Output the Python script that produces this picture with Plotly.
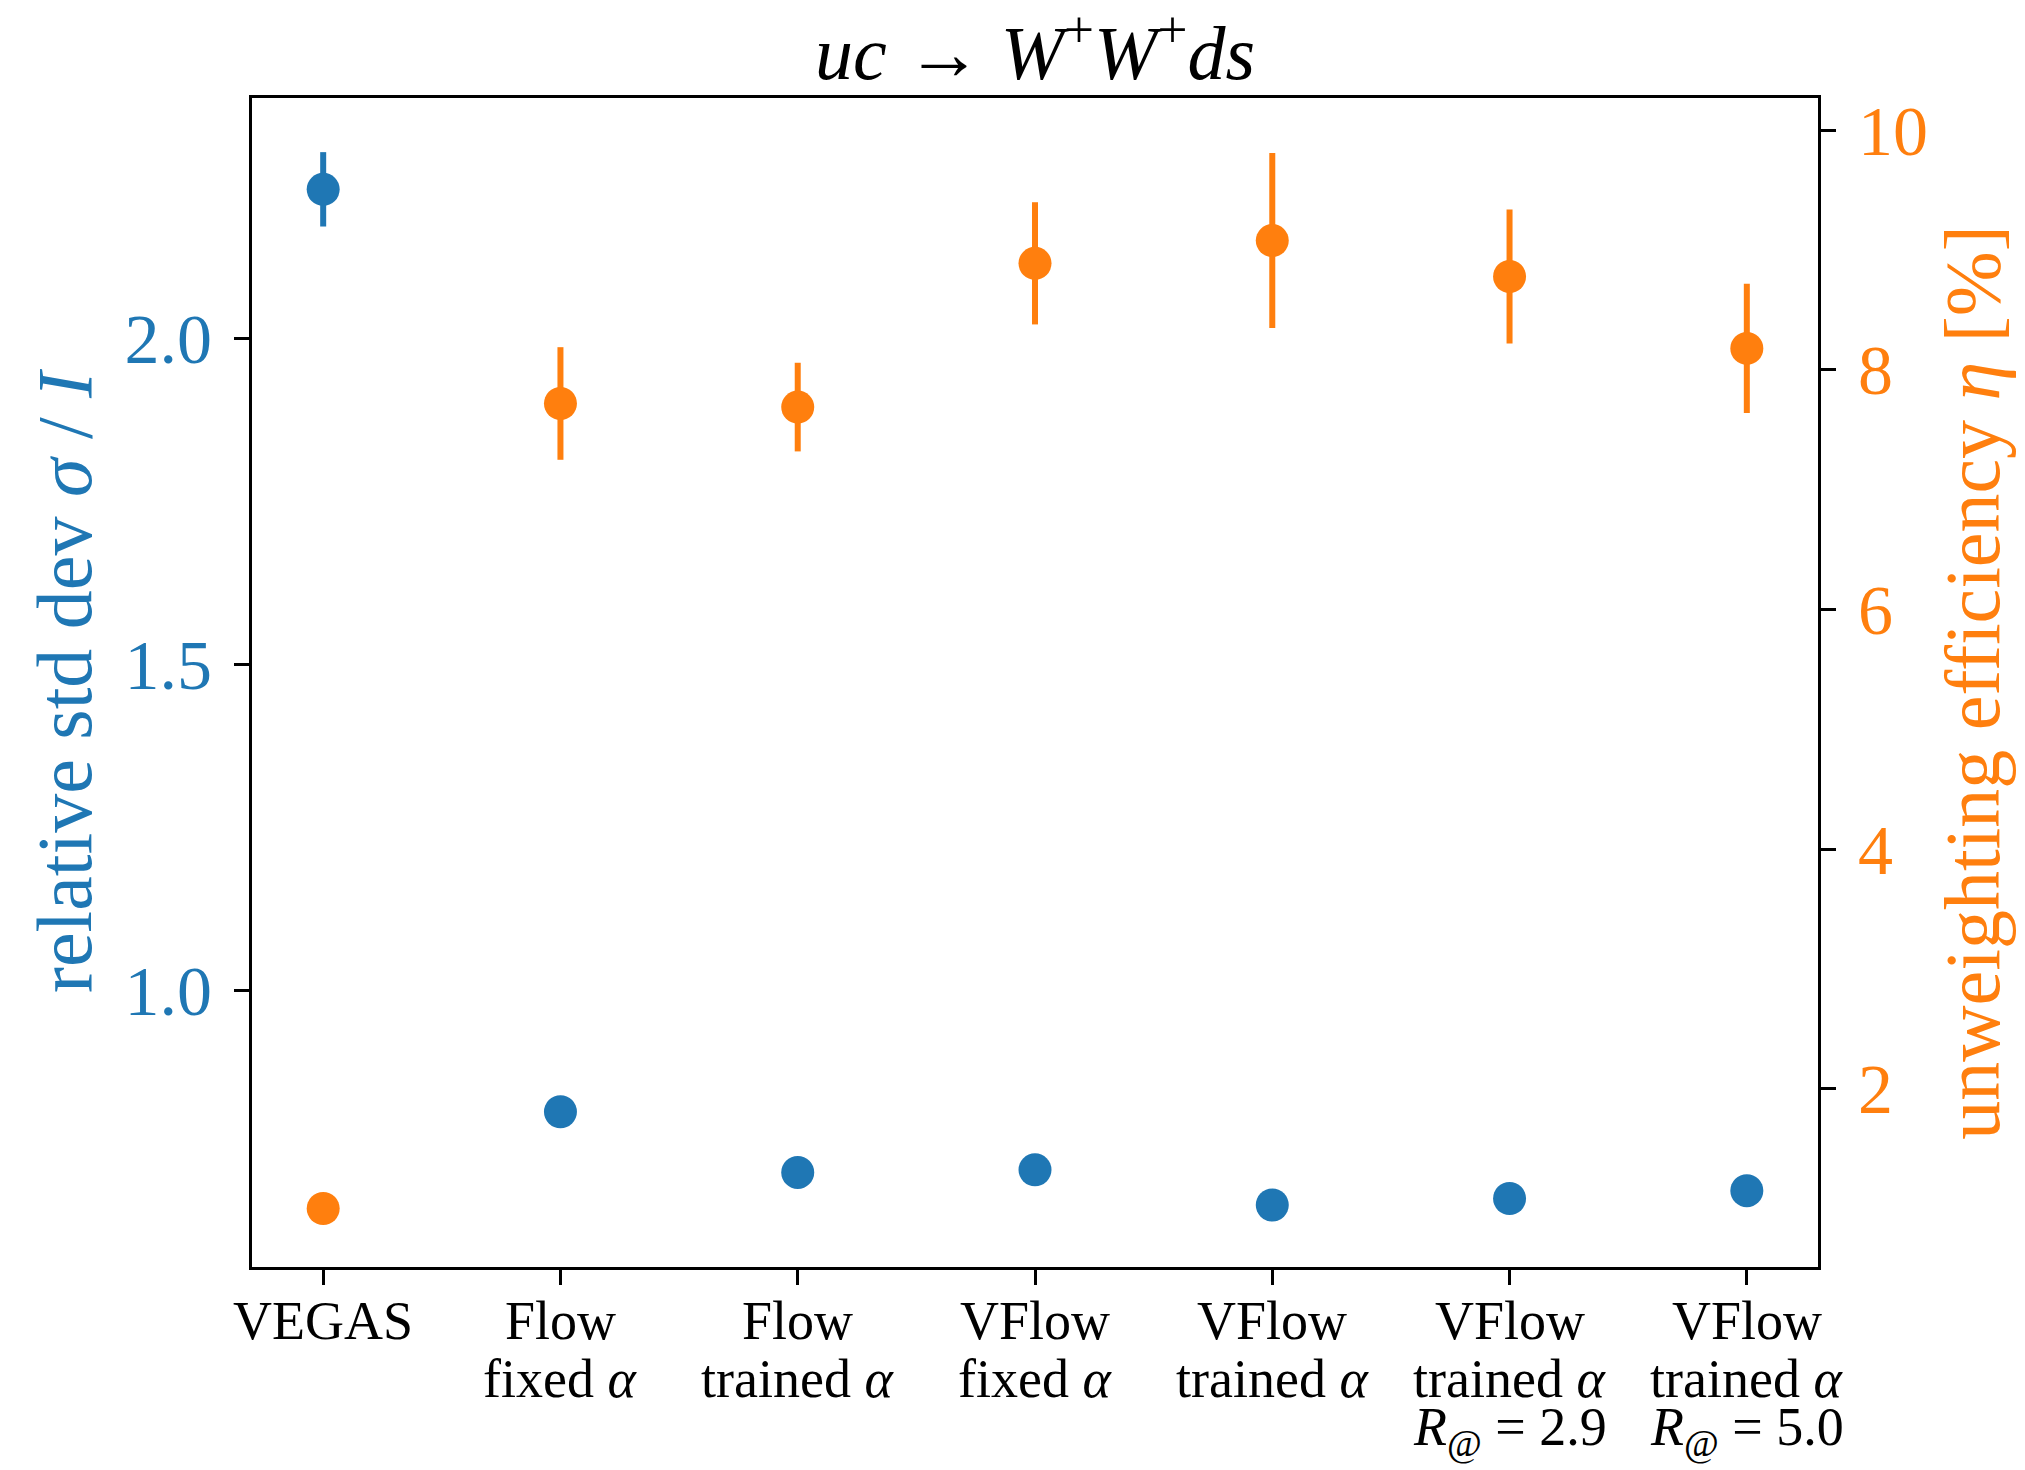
import plotly.graph_objects as go

# Methods compared
categories = [0, 1, 2, 3, 4, 5, 6]
tick_labels = [
    "VEGAS",
    "Flow<br>fixed <i>α</i>",
    "Flow<br>trained <i>α</i>",
    "VFlow<br>fixed <i>α</i>",
    "VFlow<br>trained <i>α</i>",
    "VFlow<br>trained <i>α</i><br><i>R</i><sub>@</sub> = 2.9",
    "VFlow<br>trained <i>α</i><br><i>R</i><sub>@</sub> = 5.0",
]

# Relative standard deviation sigma / I (left axis)
rel_std = [2.228, 0.814, 0.721, 0.725, 0.671, 0.681, 0.693]
rel_std_err = [0.057, 0.0, 0.0, 0.0, 0.0, 0.0, 0.0]

# Unweighting efficiency eta in percent (right axis)
eff = [1.0, 7.72, 7.69, 8.89, 9.08, 8.78, 8.18]
eff_err = [0.0, 0.47, 0.37, 0.51, 0.73, 0.56, 0.54]

BLUE = "#1f77b4"
ORANGE = "#ff7f0e"
FONT = "Liberation Serif"

W, H = 2025, 1470
L, R, T, B = 252, 207, 98, 203
plot_h = H - T - B

fig = go.Figure()

fig.add_trace(go.Scatter(
    x=categories, y=rel_std, mode="markers",
    marker=dict(color=BLUE, size=33),
    error_y=dict(type="data", array=rel_std_err, visible=True,
                 color=BLUE, thickness=6, width=0),
    yaxis="y", showlegend=False,
))

fig.add_trace(go.Scatter(
    x=categories, y=eff, mode="markers",
    marker=dict(color=ORANGE, size=33),
    error_y=dict(type="data", array=eff_err, visible=True,
                 color=ORANGE, thickness=6, width=0),
    yaxis="y2", showlegend=False,
))

# Multi-line category labels below the x axis, one text per line
line_offsets_px = [54, 112, 164]
annotations = []
for xv, label in zip(categories, tick_labels):
    for k, line in enumerate(label.split("<br>")):
        annotations.append(dict(
            x=xv, xref="x", y=-line_offsets_px[k] / plot_h, yref="paper",
            text=line, showarrow=False, xanchor="center", yanchor="middle",
            font=dict(size=54, family=FONT, color="black"),
        ))

fig.update_layout(
    width=W, height=H,
    margin=dict(l=L, r=R, t=T, b=B),
    paper_bgcolor="white", plot_bgcolor="white",
    font=dict(family=FONT, color="black"),
    title=dict(
        text="<i>uc</i> → <i>W</i><sup>+</sup><i>W</i><sup>+</sup><i>ds</i>",
        x=(L + (W - R)) / 2 / W, xanchor="center",
        y=1 - 52 / H, yanchor="middle",
        font=dict(size=76, family=FONT),
    ),
    annotations=annotations,
    xaxis=dict(
        range=[-0.3, 6.3], tickmode="array", tickvals=categories,
        showticklabels=False, automargin=False,
        ticks="outside", ticklen=15, tickwidth=3, tickcolor="black",
        showline=True, linecolor="black", linewidth=3, mirror=True,
        showgrid=False, zeroline=False,
    ),
    yaxis=dict(
        range=[0.576, 2.368], tickvals=[1.0, 1.5, 2.0],
        ticktext=["1.0", "1.5", "2.0"], automargin=False,
        tickfont=dict(size=70, family=FONT, color=BLUE),
        ticks="outside", ticklen=15, tickwidth=3, tickcolor="black",
        ticklabelstandoff=8,
        showline=True, linecolor="black", linewidth=3, mirror=True,
        showgrid=False, zeroline=False,
        title=dict(text="relative std dev <i>σ</i> / <i>I</i>",
                   font=dict(size=78, family=FONT, color=BLUE), standoff=8),
    ),
    yaxis2=dict(
        overlaying="y", side="right", automargin=False,
        range=[0.512, 10.27], tickvals=[2, 4, 6, 8, 10],
        tickfont=dict(size=70, family=FONT, color=ORANGE),
        ticks="outside", ticklen=15, tickwidth=3, tickcolor="black",
        ticklabelstandoff=8,
        showline=True, linecolor="black", linewidth=3,
        showgrid=False, zeroline=False,
        title=dict(text="unweighting efficiency <i>η</i> [%]",
                   font=dict(size=78, family=FONT, color=ORANGE), standoff=18),
    ),
)

fig.write_html("out.html")
